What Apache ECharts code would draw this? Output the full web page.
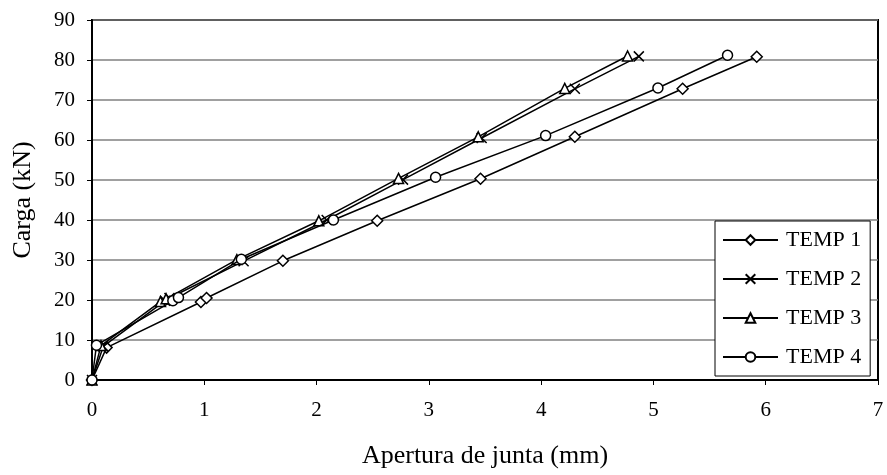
<!DOCTYPE html>
<html>
<head>
<meta charset="utf-8">
<script src="https://cdn.jsdelivr.net/npm/echarts@6/dist/echarts.min.js"></script>
<style>html,body{margin:0;padding:0;background:#fff}#c{width:887px;height:475px}</style>
</head>
<body>
<div id="c"></div>
<script>
const seriesNames = ["TEMP 1", "TEMP 2", "TEMP 3", "TEMP 4"];
const temp1 = [[0,0],[0.13,8.1],[0.97,19.5],[1.02,20.5],[1.70,29.8],[2.54,39.8],[3.46,50.3],[4.30,60.8],[5.26,72.8],[5.92,80.8]];
const temp2 = [[0,0],[0.10,8.4],[0.65,19.8],[0.69,20.5],[1.35,29.7],[2.09,40.0],[2.77,50.1],[3.47,60.5],[4.30,72.8],[4.87,80.9]];
const temp3 = [[0,0],[0.08,8.6],[0.61,19.6],[0.66,20.3],[1.29,30.1],[2.02,39.8],[2.73,50.4],[3.44,60.8],[4.21,72.9],[4.77,81.0]];
const temp4 = [[0,0],[0.04,8.7],[0.72,19.8],[0.77,20.6],[1.33,30.2],[2.15,40.0],[3.06,50.7],[4.04,61.1],[5.04,73.0],[5.66,81.2]];
const xTicks = {min:0, max:7, interval:1};
const yTicks = {min:0, max:90, interval:10};

const symbols = ['diamond', 'path://M0,0L10,10M10,0L0,10', 'triangle', 'circle'];
const datasets = [temp1, temp2, temp3, temp4];
const font = '"Liberation Serif", "Times New Roman", serif';

const chart = echarts.init(document.getElementById('c'), null, {renderer:'canvas'});
chart.setOption({
  animation:false,
  backgroundColor:'#fff',
  grid:{left:92, right:9, top:20, bottom:95, show:true, borderColor:'#000', borderWidth:2, backgroundColor:'transparent'},
  xAxis:{
    type:'value', min:xTicks.min, max:xTicks.max, interval:xTicks.interval,
    name:'Apertura de junta (mm)', nameLocation:'middle', nameGap:63,
    nameTextStyle:{fontFamily:font, fontSize:26, color:'#000'},
    axisLine:{lineStyle:{color:'#000', width:2}},
    axisTick:{show:true, inside:false, length:5, lineStyle:{color:'#000', width:1}},
    axisLabel:{fontFamily:font, fontSize:21, color:'#000', margin:20},
    splitLine:{show:false}
  },
  yAxis:{
    type:'value', min:yTicks.min, max:yTicks.max, interval:yTicks.interval,
    name:'Carga (kN)', nameLocation:'middle', nameGap:56, nameRotate:90,
    nameTextStyle:{fontFamily:font, fontSize:26, color:'#000'},
    axisLine:{show:true, lineStyle:{color:'#000', width:2}},
    axisTick:{show:true, inside:false, length:5, lineStyle:{color:'#000', width:1}},
    axisLabel:{fontFamily:font, fontSize:21, color:'#000', margin:17},
    splitLine:{show:true, lineStyle:{color:'#808080', width:1.5}}
  },
  legend:{
    orient:'vertical', left:715, top:221,
    backgroundColor:'#fff', borderColor:'#000', borderWidth:1,
    padding:[8, 9, 8, 7], itemGap:17, itemWidth:55, itemHeight:12,
    textStyle:{fontFamily:font, fontSize:22, color:'#000', lineHeight:22, padding:[0,0,0,3]},
    data:seriesNames
  },
  series: datasets.map((d,i)=>({
    name:seriesNames[i], type:'line', data:d,
    symbol:symbols[i], symbolSize: i===0 ? 11 : 10,
    showAllSymbol:true,
    lineStyle:{color:'#000', width:1.5},
    itemStyle:{color: i===1 ? 'rgba(0,0,0,0)' : '#fff', borderColor:'#000', borderWidth:1.5},
    emphasis:{disabled:true},
    z: 2+i
  }))
});
</script>
</body>
</html>
